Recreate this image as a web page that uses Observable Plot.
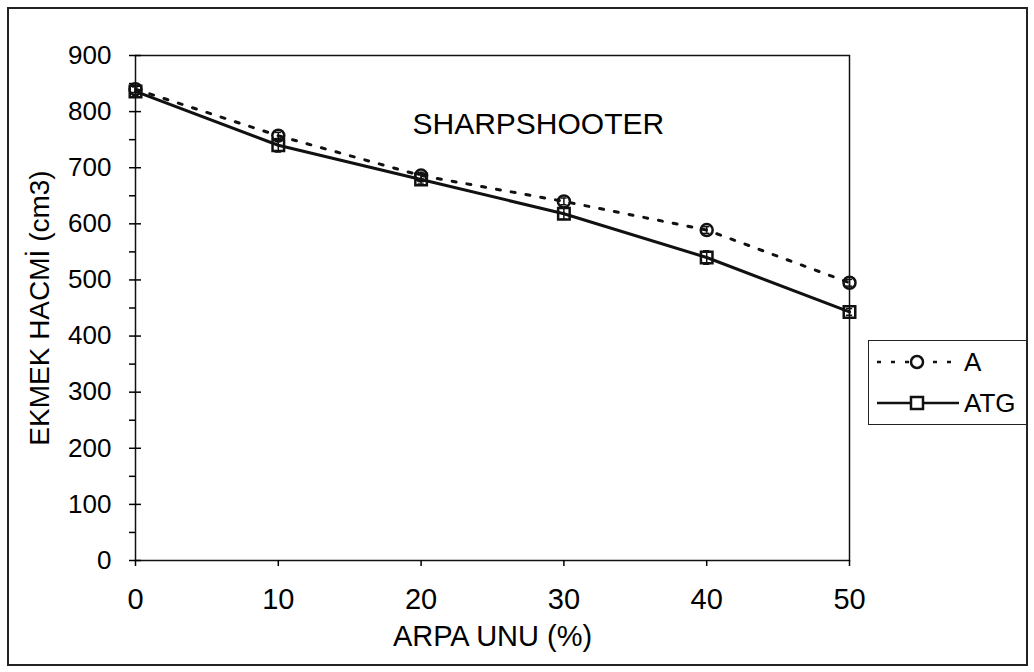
<!DOCTYPE html>
<html>
<head>
<meta charset="utf-8">
<script src="https://cdn.jsdelivr.net/npm/d3@7"></script>
<script src="https://cdn.jsdelivr.net/npm/@observablehq/plot@0.6"></script>
<style>
  html, body { margin: 0; padding: 0; background: #fff; }
  #wrap { position: relative; width: 1034px; height: 672px; font-family: "Liberation Sans", Arial, sans-serif; }
  #border { position: absolute; left: 7px; top: 7px; width: 1021px; height: 659px; border: 2px solid #222; box-sizing: border-box; pointer-events: none; }
  #legend { position: absolute; left: 868px; top: 340px; width: 159px; height: 85px; border: 1.5px solid #222; box-sizing: border-box; background: #fff; }
  .item { position: absolute; left: 8px; height: 30px; display: flex; align-items: center; font-size: 26px; color: #000; }
  .item svg { margin-right: 5px; }
</style>
</head>
<body>
<div id="wrap">
  <div id="chart"></div>
  <div id="legend"></div>
  <div id="border"></div>
</div>
<script>
// Data
const arpaUnu = [0, 10, 20, 30, 40, 50];
const seriesA = [840, 757, 686, 640, 589, 495];
const errA    = [6, 6, 6, 6, 6, 6];
const seriesATG = [836, 740, 679, 618, 540, 443];
const errATG    = [8, 12, 8, 10, 12, 6];
const seriesNames = ["A", "ATG"];
const yTicks = [0, 100, 200, 300, 400, 500, 600, 700, 800, 900];
const yMinorTicks = [50, 150, 250, 350, 450, 550, 650, 750, 850];
const xTicks = [0, 10, 20, 30, 40, 50];
const chartTitle = "SHARPSHOOTER";
const xLabel = "ARPA UNU (%)";
const yLabel = "EKMEK HACMİ (cm3)";

const rows = [];
arpaUnu.forEach((x, i) => {
  rows.push({series: "A", x, y: seriesA[i], e: errA[i]});
  rows.push({series: "ATG", x, y: seriesATG[i], e: errATG[i]});
});
const rowsA = rows.filter(d => d.series === "A");
const rowsATG = rows.filter(d => d.series === "ATG");
const cap = 0.22;
const blank = () => "";

const chart = Plot.plot({
  width: 1034,
  height: 672,
  marginLeft: 135,
  marginRight: 185,
  marginTop: 55,
  marginBottom: 112,
  style: {fontFamily: "'Liberation Sans', Arial, sans-serif", fontSize: "26px", color: "#000", background: "transparent"},
  x: {domain: [0, 50]},
  y: {domain: [0, 900]},
  marks: [
    Plot.frame({stroke: "#111", strokeWidth: 1.5}),
    Plot.axisY({ticks: yTicks, tickSize: 6, tickPadding: 18, fontSize: 26, label: null, strokeWidth: 1.5}),
    Plot.axisY({ticks: yTicks, tickSize: -6, tickFormat: blank, label: null, strokeWidth: 1.5}),
    Plot.axisY({ticks: yMinorTicks, tickSize: 6, tickFormat: blank, label: null, strokeWidth: 1.5}),
    Plot.axisX({ticks: xTicks, tickSize: 6, tickPadding: 22, fontSize: 29, label: null, strokeWidth: 1.5}),
    Plot.text([yLabel], {frameAnchor: "left", dx: -95, rotate: -90, fontSize: 28, textAnchor: "middle", lineAnchor: "middle", text: d => d}),
    Plot.text([xLabel], {frameAnchor: "bottom", dy: 76, fontSize: 29, lineAnchor: "middle", text: d => d}),
    Plot.text([chartTitle], {frameAnchor: "top-left", dx: 277, dy: 69, fontSize: 30, lineAnchor: "middle", text: d => d}),
    // error bars
    Plot.ruleX(rows, {x: "x", y1: d => d.y - d.e, y2: d => d.y + d.e, stroke: "#111", strokeWidth: 1.5}),
    Plot.ruleY(rows, {y: d => d.y - d.e, x1: d => d.x - cap, x2: d => d.x + cap, stroke: "#111", strokeWidth: 1.5}),
    Plot.ruleY(rows, {y: d => d.y + d.e, x1: d => d.x - cap, x2: d => d.x + cap, stroke: "#111", strokeWidth: 1.5}),
    // lines
    Plot.line(rowsA, {x: "x", y: "y", stroke: "#111", strokeWidth: 3, strokeDasharray: "4,11"}),
    Plot.line(rowsATG, {x: "x", y: "y", stroke: "#111", strokeWidth: 3}),
    // markers
    Plot.dot(rowsA, {x: "x", y: "y", symbol: "circle", r: 6, stroke: "#111", strokeWidth: 2.5, fill: "none"}),
    Plot.dot(rowsATG, {x: "x", y: "y", symbol: "square", r: 6.5, stroke: "#111", strokeWidth: 2.5, fill: "none"})
  ]
});
document.getElementById("chart").appendChild(chart);

// Legend
const legend = document.getElementById("legend");
seriesNames.forEach((name, i) => {
  const item = document.createElement("div");
  item.className = "item";
  item.style.top = (i === 0 ? 6 : 47) + "px";
  const dashed = name === "A";
  const marker = dashed
    ? `<circle cx="40" cy="15" r="6" fill="#fff" stroke="#111" stroke-width="2.5"/>`
    : `<rect x="34" y="9" width="12" height="12" fill="#fff" stroke="#111" stroke-width="2.5"/>`;
  item.innerHTML = `<svg width="82" height="30"><line x1="0" y1="15" x2="82" y2="15" stroke="#111" stroke-width="2.5" ${dashed ? 'stroke-dasharray="4,10"' : ''}/>${marker}</svg><span>${name}</span>`;
  legend.appendChild(item);
});
</script>
</body>
</html>
